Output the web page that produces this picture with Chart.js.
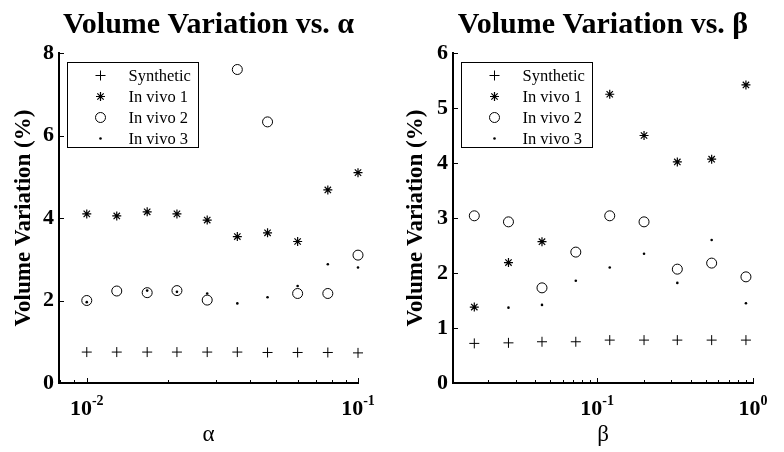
<!DOCTYPE html>
<html><head><meta charset="utf-8">
<script src="https://cdn.jsdelivr.net/npm/chart.js@4/dist/chart.umd.min.js"></script>
<style>
html,body{margin:0;padding:0;background:#fff;width:784px;height:452px;overflow:hidden}
.box{position:absolute;top:0;width:392px;height:452px}
canvas{display:block}
</style></head><body>
<div class="box" style="left:0"><canvas id="c1" width="392" height="452"></canvas></div>
<div class="box" style="left:392px"><canvas id="c2" width="392" height="452"></canvas></div>
<script>
// ---- data ----
const seriesNames = ['Synthetic', 'In vivo 1', 'In vivo 2', 'In vivo 3'];

const alphaValues = [0.01, 0.0129, 0.0167, 0.0215, 0.0278, 0.0359, 0.0464, 0.0599, 0.0774, 0.1];
const alphaSynthetic = [0.75, 0.75, 0.75, 0.75, 0.75, 0.75, 0.74, 0.74, 0.74, 0.73];
const alphaVivo1 = [4.10, 4.05, 4.15, 4.10, 3.95, 3.55, 3.64, 3.43, 4.68, 5.10];
const alphaVivo2 = [2.00, 2.23, 2.19, 2.24, 2.01, 7.60, 6.33, 2.17, 2.17, 3.10];
const alphaVivo3 = [1.96, null, 2.24, 2.21, 2.17, 1.93, 2.08, 2.35, 2.88, 2.80];

const betaValues = [0.0163, 0.0270, 0.0443, 0.0730, 0.1205, 0.200, 0.327, 0.543, 0.901];
const betaSynthetic = [0.72, 0.73, 0.75, 0.75, 0.78, 0.78, 0.78, 0.78, 0.78];
const betaVivo1 = [1.38, 2.19, 2.57, null, 5.25, 4.50, 4.02, 4.07, 5.42];
const betaVivo2 = [3.04, 2.93, 1.73, 2.38, 3.04, 2.93, 2.07, 2.18, 1.93];
const betaVivo3 = [1.37, 1.37, 1.42, 1.86, 2.10, 2.35, 1.82, 2.60, 1.45];

const alphaTickMarks = [0.008, 0.009, 0.01, 0.02, 0.03, 0.04, 0.05, 0.06, 0.07, 0.08, 0.09, 0.1];
const alphaTickLabelValues = [0.01, 0.1];
const alphaTickLabelExps = ['-2', '-1'];
const betaTickMarks = [0.02, 0.03, 0.04, 0.05, 0.06, 0.07, 0.08, 0.09, 0.1, 0.2, 0.3, 0.4, 0.5, 0.6, 0.7, 0.8, 0.9, 1];
const betaTickLabelValues = [0.1, 1];
const betaTickLabelExps = ['-1', '0'];

// ---- style ----
const SERIF = '"Liberation Serif", "Times New Roman", Times, serif';
const markerStyles = [
  {pointStyle: 'cross', radius: 5, borderWidth: 1, bg: 'rgba(0,0,0,0)'},
  {pointStyle: 'star', radius: 4.5, borderWidth: 1.2, bg: 'rgba(0,0,0,0)'},
  {pointStyle: 'circle', radius: 5, borderWidth: 1, bg: 'rgba(0,0,0,0)'},
  {pointStyle: 'circle', radius: 1.3, borderWidth: 0, bg: '#000'}
];

function makeDatasets(xs, seriesList) {
  return seriesList.map((ys, i) => ({
    label: seriesNames[i],
    data: xs.map((x, j) => ({x: x, y: ys[j]})).filter(p => p.y !== null),
    showLine: false,
    pointStyle: markerStyles[i].pointStyle,
    pointRadius: markerStyles[i].radius,
    pointBorderWidth: markerStyles[i].borderWidth,
    pointBorderColor: '#000',
    pointBackgroundColor: markerStyles[i].bg,
    borderColor: '#000',
    backgroundColor: markerStyles[i].bg,
    clip: false
  }));
}

const matlabPlugin = {
  id: 'matlabAxes',
  afterDraw(chart, args, opts) {
    const ctx = chart.ctx;
    const ca = chart.chartArea;
    const xs = chart.scales.x, ys = chart.scales.y;
    ctx.save();
    ctx.strokeStyle = '#000';
    ctx.lineWidth = 1;
    // inward tick marks on x
    opts.tickMarks.forEach(v => {
      const px = Math.round(xs.getPixelForValue(v)) + 0.5;
      const major = opts.labelValues.indexOf(v) >= 0;
      ctx.beginPath();
      ctx.moveTo(px, ca.bottom);
      ctx.lineTo(px, ca.bottom - (major ? 5 : 3));
      ctx.stroke();
    });
    // inward tick marks on y
    ys.ticks.forEach(t => {
      const py = Math.round(ys.getPixelForValue(t.value)) + 0.5;
      ctx.beginPath();
      ctx.moveTo(ca.left, py);
      ctx.lineTo(ca.left + 5, py);
      ctx.stroke();
    });
    // x tick labels 10^n
    ctx.fillStyle = '#000';
    ctx.textBaseline = 'alphabetic';
    ctx.textAlign = 'left';
    opts.labelValues.forEach((v, i) => {
      const px = xs.getPixelForValue(v);
      ctx.font = 'bold 22px ' + SERIF;
      const w1 = ctx.measureText('10').width;
      ctx.font = 'bold 14px ' + SERIF;
      const w2 = ctx.measureText(opts.labelExps[i]).width;
      const x0 = px - (w1 + w2) / 2;
      ctx.font = 'bold 22px ' + SERIF;
      ctx.fillText('10', x0, ca.bottom + 32);
      ctx.font = 'bold 14px ' + SERIF;
      ctx.fillText(opts.labelExps[i], x0 + w1, ca.bottom + 22);
    });
    // legend box
    const bx = ca.left + 8.5, by = ca.top + 9.5, bw = 131, bh = 85;
    ctx.fillStyle = '#fff';
    ctx.fillRect(bx, by, bw, bh);
    ctx.strokeStyle = '#000';
    ctx.lineWidth = 1;
    ctx.strokeRect(bx, by, bw, bh);
    chart.data.datasets.forEach((ds, i) => {
      const ry = by + 13 + i * 21;
      ctx.strokeStyle = '#000';
      ctx.fillStyle = ds.pointBackgroundColor;
      ctx.lineWidth = ds.pointBorderWidth || 0;
      Chart.helpers.drawPoint(ctx, {
        pointStyle: ds.pointStyle, radius: ds.pointRadius,
        rotation: 0, borderWidth: ds.pointBorderWidth
      }, bx + 33, ry);
      ctx.fillStyle = '#000';
      ctx.font = '16.5px ' + SERIF;
      ctx.textBaseline = 'middle';
      ctx.fillText(ds.label, bx + 61, ry + 1);
    });
    ctx.restore();
  }
};

function makeChart(id, cfg) {
  return new Chart(document.getElementById(id), {
    type: 'scatter',
    data: {datasets: makeDatasets(cfg.xVals, cfg.series)},
    options: {
      responsive: false,
      animation: false,
      events: [],
      layout: {padding: {left: 0, right: cfg.rightPad, top: 0, bottom: 0}},
      plugins: {
        legend: {display: false},
        tooltip: {enabled: false},
        title: {
          display: true, text: cfg.title, fullSize: false, color: '#000',
          font: {family: SERIF, size: 30, weight: 'bold', lineHeight: 1.2},
          padding: {top: 7, bottom: 10}
        },
        matlabAxes: {tickMarks: cfg.tickMarks, labelValues: cfg.labelValues, labelExps: cfg.labelExps}
      },
      scales: {
        x: {
          type: 'logarithmic', position: 'bottom', min: cfg.xMin, max: cfg.xMax,
          border: {display: true, color: '#000', width: 2},
          grid: {display: false, drawTicks: false},
          ticks: {display: false},
          afterBuildTicks: s => { s.ticks = cfg.tickMarks.map(v => ({value: v})); },
          afterFit: s => { s.height = 69; },
          title: {display: true, text: cfg.xTitle, color: '#000',
            font: {family: SERIF, size: 23, lineHeight: 1.2}, padding: {top: 0, bottom: 3}}
        },
        y: {
          type: 'linear', position: 'left', min: 0, max: cfg.yMax,
          border: {display: true, color: '#000', width: 2},
          grid: {display: false, drawTicks: false},
          ticks: {stepSize: cfg.yStep, color: '#000', padding: 5,
            font: {family: SERIF, size: 22, weight: 'bold'}},
          afterFit: s => { s.width = cfg.yWidth; },
          title: {display: true, text: 'Volume Variation (%)', color: '#000',
            font: {family: SERIF, size: 23, weight: 'bold', lineHeight: 1.2}, padding: {top: 10, bottom: 0}}
        }
      }
    },
    plugins: [matlabPlugin]
  });
}

makeChart('c1', {
  xVals: alphaValues, series: [alphaSynthetic, alphaVivo1, alphaVivo2, alphaVivo3],
  title: 'Volume Variation vs. α', xTitle: 'α',
  xMin: 0.0079, xMax: 0.1, yMax: 8, yStep: 2, yWidth: 59, rightPad: 34,
  tickMarks: alphaTickMarks, labelValues: alphaTickLabelValues, labelExps: alphaTickLabelExps
});
makeChart('c2', {
  xVals: betaValues, series: [betaSynthetic, betaVivo1, betaVivo2, betaVivo3],
  title: 'Volume Variation vs. β', xTitle: 'β',
  xMin: 0.0119, xMax: 1, yMax: 6, yStep: 1, yWidth: 61, rightPad: 31,
  tickMarks: betaTickMarks, labelValues: betaTickLabelValues, labelExps: betaTickLabelExps
});
</script>
</body></html>
